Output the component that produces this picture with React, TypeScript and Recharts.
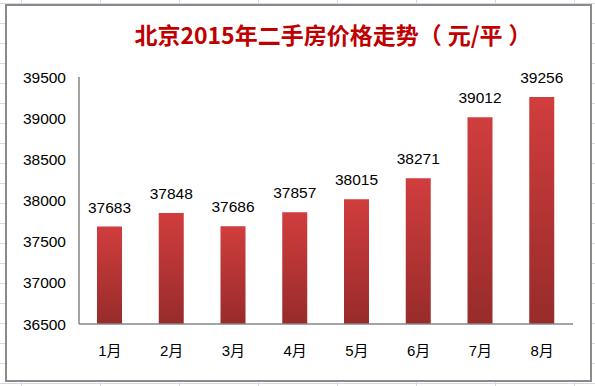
import React from 'react';
import { BarChart, Bar, XAxis, YAxis, LabelList } from 'recharts';

const months = ['1月', '2月', '3月', '4月', '5月', '6月', '7月', '8月'];
const prices = [37683, 37848, 37686, 37857, 38015, 38271, 39012, 39256];
const yTicks = [36500, 37000, 37500, 38000, 38500, 39000, 39500];

const data = months.map((month, i) => ({ month, price: prices[i] }));

const FONT = '"Liberation Sans", Arial, "Noto Sans CJK SC", sans-serif';

// excel sheet grid behind the chart object
const sheetBg = {
    backgroundColor: '#fff',
    backgroundImage:
        'linear-gradient(to right, #d5dbe6 1px, transparent 1px), linear-gradient(to bottom, #d5dbe6 1px, transparent 1px)',
    backgroundSize: '79px 20px',
    backgroundPosition: '21px 3px',
};

// full-width parens sit at the cell edge in Noto, pad the inner side
const lParen = { display: 'inline-block', marginRight: 6 };
const rParen = { display: 'inline-block', marginLeft: 6 };

export default function App() {
    return (
        <div style={{ position: 'absolute', left: 0, top: 0, width: 595, height: 386, overflow: 'hidden', ...sheetBg }}>
            <div
                style={{
                    position: 'absolute',
                    left: 5,
                    top: 4,
                    width: 583,
                    height: 374,
                    background: '#fff',
                    border: '2px solid #8a8a8a',
                }}
            />
            <div
                style={{
                    position: 'absolute',
                    left: 0,
                    top: 21,
                    width: 666,
                    textAlign: 'center',
                    fontFamily: '"Noto Sans CJK SC", sans-serif',
                    fontWeight: 700,
                    fontSize: 23,
                    lineHeight: '26px',
                    color: '#c00000',
                    whiteSpace: 'nowrap',
                }}
            >
                北京2015年二手房价格走势<span style={lParen}>（</span>元/平<span style={rParen}>）</span>
            </div>
            <div style={{ position: 'absolute', left: 0, top: 0 }}>
                <BarChart
                    width={595}
                    height={386}
                    data={data}
                    margin={{ top: 77, right: 22, bottom: 32, left: 0 }}
                >
                    <defs>
                        <linearGradient id="barFill" x1="0" y1="0" x2="0" y2="1">
                            <stop offset="0%" stopColor="#d13d3d" />
                            <stop offset="100%" stopColor="#982b2b" />
                        </linearGradient>
                    </defs>
                    <XAxis
                        dataKey="month"
                        height={30}
                        axisLine={{ stroke: '#868686', strokeWidth: 1.5 }}
                        tickLine={false}
                        tickSize={0}
                        tickMargin={21}
                        tick={{ fill: '#000', fontSize: 15, fontFamily: FONT }}
                        interval={0}
                    />
                    <YAxis
                        width={79}
                        domain={[36500, 39500]}
                        ticks={yTicks}
                        allowDataOverflow
                        axisLine={{ stroke: '#868686', strokeWidth: 1.5 }}
                        tickLine={false}
                        tickSize={0}
                        tickMargin={13}
                        tick={{ fill: '#000', fontSize: 15.5, fontFamily: FONT }}
                    />
                    <Bar dataKey="price" fill="url(#barFill)" barSize={25} isAnimationActive={false}>
                        <LabelList
                            dataKey="price"
                            position="top"
                            offset={14}
                            fill="#000"
                            fontSize={15.5}
                            fontFamily={FONT}
                        />
                    </Bar>
                </BarChart>
            </div>
        </div>
    );
}
